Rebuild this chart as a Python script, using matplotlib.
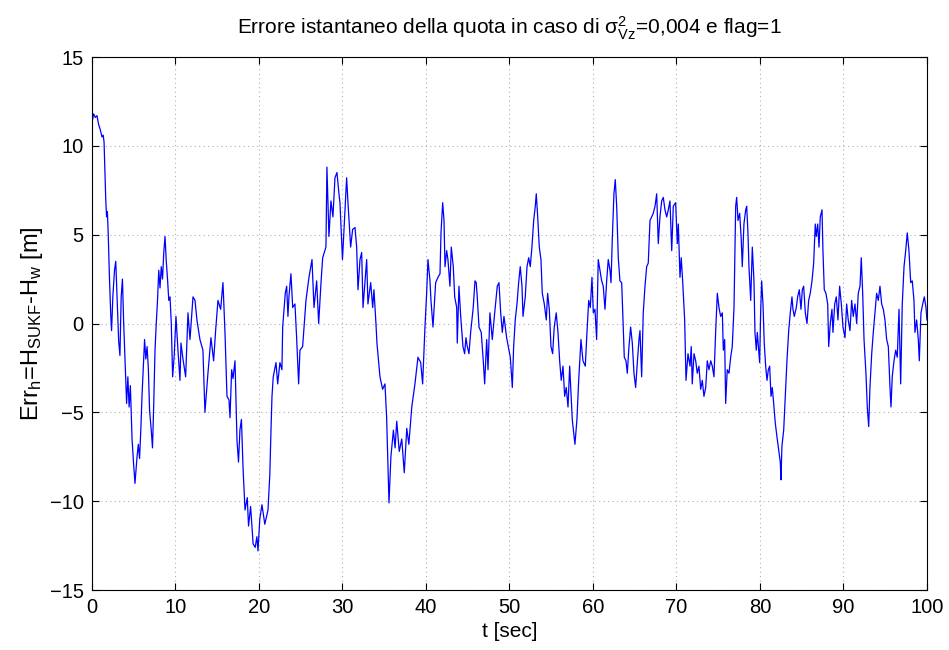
import matplotlib
matplotlib.use("Agg")
import matplotlib.pyplot as plt
import numpy as np

plt.rcParams['font.family'] = ['Liberation Sans', 'DejaVu Sans']
plt.rcParams['mathtext.fontset'] = 'custom'
plt.rcParams['mathtext.rm'] = 'Liberation Sans'
plt.rcParams['mathtext.it'] = 'Liberation Sans'
plt.rcParams['mathtext.default'] = 'regular'

# altitude error samples, split in 20 s blocks
t_a = [0.0, 0.2, 0.4, 0.6, 0.8, 1.0, 1.2, 1.35, 1.45, 1.55, 1.65, 1.75, 1.85, 1.95, 2.1,
       2.25, 2.35, 2.5, 2.7, 2.85, 3.0, 3.2, 3.35, 3.5, 3.65, 3.8, 4.0, 4.15, 4.3, 4.45,
       4.6, 4.8, 5.0, 5.15, 5.4, 5.55, 5.7, 5.85, 6.0, 6.15, 6.3, 6.45, 6.6, 6.75, 6.9,
       7.1, 7.25, 7.4, 7.55, 7.7, 7.85, 8.0, 8.15, 8.3, 8.45, 8.6, 8.75, 8.9, 9.05, 9.2,
       9.35, 9.5, 9.66, 9.85, 10.06, 10.3, 10.54, 10.66, 10.9, 11.22, 11.5, 11.74, 12.1, 12.34, 12.57,
       12.93, 13.29, 13.53, 13.89, 14.25, 14.57, 14.81, 15.09, 15.41, 15.69, 15.93, 16.17, 16.41, 16.53, 16.73,
       16.89, 17.13, 17.37, 17.55, 17.72, 17.9, 18.1, 18.33, 18.6, 18.75, 19.0, 19.3, 19.55, 19.75, 19.88]
err_a = [11.3, 11.8, 11.6, 11.7, 11.2, 10.9, 10.5, 10.6, 10.2, 8.5, 7.0, 6.0, 6.3, 5.0, 2.5,
         0.5, -0.4, 1.5, 3.0, 3.5, 1.5, -1.0, -1.8, 1.5, 2.5, 0.0, -2.5, -4.5, -3.0, -4.7,
         -3.5, -6.5, -8.0, -9.0, -7.5, -6.8, -7.6, -6.0, -4.0, -2.5, -0.9, -2.0, -1.3, -2.5, -4.9,
         -6.0, -7.0, -4.5, -1.5, 0.0, 1.3, 3.0, 2.0, 3.2, 2.5, 4.0, 4.9, 3.5, 2.5, 1.3,
         1.5, 0.0, -3.0, -1.8, 0.4, -1.5, -3.2, -1.1, -2.0, -3.0, 0.6, -0.9, 1.5, 1.3, 0.2,
         -0.9, -1.5, -5.0, -2.8, -0.8, -2.1, -0.4, 1.3, 0.8, 2.3, -0.5, -4.1, -4.3, -5.3, -2.6,
         -3.1, -2.1, -6.6, -7.8, -6.0, -5.4, -8.2, -10.5, -9.8, -11.4, -10.3, -12.4, -12.6, -12.0, -12.8]

t_b = [20.1, 20.36, 20.7, 21.08, 21.3, 21.44, 21.56, 21.71, 22.04, 22.24, 22.51, 22.75, 22.84, 23.15, 23.32,
       23.47, 23.59, 23.83, 24.04, 24.31, 24.51, 24.63, 24.75, 24.91, 25.23, 25.63, 25.99, 26.35, 26.59, 26.91,
       27.15, 27.43, 27.63, 28.02, 28.14, 28.38, 28.62, 28.86, 29.1, 29.34, 29.58, 29.7, 30.0, 30.3, 30.5,
       30.66, 30.98, 31.22, 31.5, 31.7, 31.86, 32.1, 32.3, 32.46, 32.69, 32.9, 33.05, 33.38, 33.62, 33.77,
       34.01, 34.13, 34.49, 34.81, 35.09, 35.29, 35.57, 35.8, 36.1, 36.3, 36.5, 36.8, 37.1, 37.4, 37.7,
       37.95, 38.3, 38.68, 39.04, 39.37, 39.6, 39.88]
err_b = [-11.0, -10.2, -11.3, -10.5, -8.5, -6.0, -4.1, -3.0, -2.2, -3.4, -2.2, -2.6, -0.2, 1.7, 2.1,
         0.4, 1.5, 2.8, 0.9, 1.1, -0.8, -2.1, -3.4, -1.5, -1.3, 1.3, 2.6, 3.6, 0.9, 2.4,
         0.0, 2.3, 3.7, 4.3, 8.8, 4.9, 6.9, 6.0, 8.2, 8.5, 7.3, 6.8, 3.6, 6.4, 8.2,
         6.8, 4.3, 5.3, 5.4, 4.3, 1.9, 3.6, 4.0, 0.9, 2.3, 3.6, 1.1, 2.3, 0.9, 1.9,
         0.0, -1.1, -3.0, -3.7, -3.4, -5.3, -10.1, -7.5, -6.0, -7.0, -5.5, -7.2, -6.5, -8.4, -5.9,
         -6.8, -4.7, -3.4, -1.9, -2.2, -3.4, -0.2]

t_c = [40.08, 40.24, 40.48, 40.6, 40.84, 41.16, 41.44, 41.68, 41.8, 42.0, 42.16, 42.28, 42.48, 42.63, 42.87,
       43.03, 43.27, 43.44, 43.68, 43.75, 43.95, 44.16, 44.43, 44.63, 44.79, 44.95, 45.15, 45.35, 45.66, 45.87,
       46.02, 46.14, 46.35, 46.62, 46.86, 47.03, 47.27, 47.43, 47.66, 47.94, 48.23, 48.54, 48.74, 48.95, 49.14,
       49.34, 49.66, 49.94, 50.1, 50.34, 50.5, 50.69, 50.9, 51.1, 51.29, 51.5, 51.62, 51.89, 52.1, 52.3,
       52.49, 52.69, 52.9, 53.09, 53.21, 53.38, 53.57, 53.77, 53.93, 54.17, 54.41, 54.57, 54.77, 54.97, 55.17,
       55.36, 55.6, 55.81, 56.01, 56.2, 56.41, 56.61, 56.8, 57.01, 57.21, 57.37, 57.52, 57.84, 58.08, 58.29,
       58.56, 58.8, 59.08, 59.28, 59.49, 59.68, 59.88]
err_c = [1.7, 3.6, 2.4, 1.3, -0.2, 2.3, 2.6, 2.8, 5.1, 6.8, 5.8, 3.2, 4.1, 3.6, 2.1,
         4.3, 3.2, 1.5, 0.9, -1.1, 2.1, 0.4, -1.3, -1.7, -0.8, -1.3, -1.7, -0.5, 0.9, 2.4,
         2.3, 1.5, -0.2, -0.5, -2.1, -3.4, -0.9, -2.6, 0.6, -0.9, 0.6, 2.1, 2.3, 0.6, -0.5,
         0.4, -0.8, -1.5, -1.9, -3.6, -1.3, 0.2, 1.1, 2.3, 3.2, 2.1, 0.4, 1.5, 3.2, 3.7,
         3.2, 4.3, 5.8, 6.6, 7.3, 6.0, 4.3, 3.6, 1.7, 1.1, 0.2, 1.7, 0.8, -1.3, -1.7,
         -0.2, 0.6, -0.5, -2.1, -3.2, -2.4, -4.1, -3.6, -4.7, -2.4, -3.9, -5.4, -6.8, -5.4, -3.2,
         -0.9, -2.1, -2.4, -0.5, 1.3, 0.9, 2.6]

t_d = [60.04, 60.24, 60.44, 60.63, 60.84, 61.04, 61.23, 61.44, 61.64, 61.83, 62.04, 62.16, 62.31, 62.51, 62.67,
       62.84, 63.03, 63.23, 63.44, 63.63, 63.75, 63.95, 64.11, 64.31, 64.51, 64.71, 64.91, 65.11, 65.31, 65.51,
       65.63, 65.83, 66.02, 66.23, 66.43, 66.62, 66.83, 67.03, 67.22, 67.43, 67.63, 67.82, 68.02, 68.23, 68.42,
       68.62, 68.83, 69.02, 69.22, 69.43, 69.62, 69.9, 70.1, 70.22, 70.42, 70.57, 70.74, 70.98, 71.14, 71.38,
       71.62, 71.77, 71.89, 72.1, 72.3, 72.49, 72.69, 72.9, 73.09, 73.29, 73.5, 73.69, 73.89, 74.1, 74.29,
       74.49, 74.69, 74.89, 75.09, 75.29, 75.49, 75.61, 75.77, 75.89, 76.08, 76.29, 76.49, 76.68, 76.89, 77.09,
       77.21, 77.37, 77.57, 77.76, 77.88, 78.08, 78.29, 78.41, 78.56, 78.68, 78.89, 79.08, 79.28, 79.4, 79.56,
       79.68, 79.84, 79.96]
err_d = [0.6, 0.8, -0.9, 3.6, 3.0, 2.4, 2.1, 0.8, 2.4, 3.6, 3.0, 2.3, 4.7, 7.3, 8.1,
         6.6, 3.7, 2.4, 2.3, -0.2, -1.9, -2.1, -2.8, -1.3, -0.2, -1.1, -2.8, -3.6, -2.2, -0.9,
         -0.4, -3.0, 0.6, 2.1, 3.2, 3.4, 5.8, 6.0, 6.2, 6.6, 7.3, 4.5, 6.0, 6.9, 7.1,
         6.4, 6.0, 6.4, 6.9, 4.1, 6.6, 6.8, 4.5, 5.6, 2.6, 3.7, 2.4, 0.2, -3.2, -1.7,
         -2.4, -1.3, -3.4, -1.7, -2.1, -2.8, -2.4, -3.7, -3.2, -4.1, -3.6, -2.1, -2.6, -2.1, -2.4,
         -3.0, -0.5, 1.7, 0.9, 0.4, 0.6, -1.5, -0.9, -4.5, -2.6, -2.8, -1.9, -1.3, 0.9, 6.6,
         7.1, 5.8, 6.2, 4.7, 3.2, 5.6, 6.4, 6.6, 5.1, 3.2, 1.3, 4.3, 2.4, -0.5, -1.5,
         -0.5, -1.5, -2.2]

t_e = [80.08, 80.2, 80.36, 80.51, 80.68, 80.84, 81.0, 81.16, 81.32, 81.47, 81.64, 81.83, 82.04, 82.24, 82.43,
       82.51, 82.63, 82.84, 83.03, 83.23, 83.44, 83.63, 83.83, 83.95, 84.11, 84.35, 84.51, 84.71, 84.91, 85.07,
       85.23, 85.43, 85.63, 85.83, 86.02, 86.23, 86.43, 86.62, 86.74, 86.91, 87.07, 87.22, 87.43, 87.54, 87.7,
       87.9, 88.11, 88.23, 88.42, 88.62, 88.74, 88.95, 89.14, 89.34, 89.54, 89.74, 89.94, 90.18, 90.38, 90.57,
       90.78, 90.98, 91.17, 91.38, 91.58, 91.77, 91.98, 92.13, 92.3, 92.46, 92.69, 92.85, 93.02, 93.17, 93.38,
       93.57, 93.77, 93.97, 94.17, 94.37, 94.57, 94.77, 94.97, 95.17, 95.37, 95.57, 95.69, 95.84, 96.05, 96.25,
       96.44, 96.65, 96.85, 97.04, 97.25, 97.45, 97.64, 97.84, 98.05, 98.24, 98.44, 98.56, 98.76, 98.96, 99.08,
       99.28, 99.49, 99.68, 99.88, 100.0]
err_e = [0.6, 2.4, 1.1, -1.1, -2.4, -3.2, -2.6, -2.4, -4.1, -3.6, -4.5, -5.6, -6.4, -7.1, -7.8,
         -8.8, -6.9, -6.0, -4.1, -2.1, -0.4, 0.6, 1.5, 0.8, 0.4, 0.9, 1.5, 1.9, 0.8, 1.9,
         2.1, 0.6, 0.0, 1.3, 1.7, 2.4, 3.4, 5.6, 4.9, 5.6, 4.3, 6.0, 6.4, 4.1, 1.9,
         1.7, 1.1, -1.3, 0.0, 0.8, -0.5, 1.1, 1.5, 0.2, 2.1, 1.1, -0.2, -0.8, 1.1, 0.2,
         -0.4, 1.3, 0.4, 1.1, 0.0, 1.7, 2.1, 3.7, 1.7, -0.9, -2.8, -4.7, -5.8, -3.6, -1.7,
         -0.5, 0.6, 1.7, 1.3, 2.1, 1.1, 0.8, 0.2, -0.9, -1.3, -3.6, -4.7, -3.0, -2.1, -1.5,
         -1.9, 0.8, -3.4, 1.1, 3.2, 4.1, 5.1, 4.1, 2.3, 2.4, 1.3, -0.5, 0.2, -0.9, -2.1,
         0.6, 1.1, 1.5, 0.9, 0.2]

t = np.concatenate([t_a, t_b, t_c, t_d, t_e])
err_h = np.concatenate([err_a, err_b, err_c, err_d, err_e])

x_ticks = np.arange(0, 101, 10)
y_ticks = np.arange(-15, 16, 5)

fig = plt.figure(figsize=(9.49, 6.5), dpi=100)
ax = fig.add_axes([0.0969, 0.0923, 0.8799, 0.82])

ax.plot(t, err_h, color='#0000ff', linewidth=0.9)

ax.set_xlim(0, 100)
ax.set_ylim(-15, 15)
ax.set_xticks(x_ticks)
ax.set_yticks(y_ticks)
ax.tick_params(direction='in', top=True, right=True, labelsize=14.5, length=5, width=0.8, pad=6)
ax.grid(True, color='#b0b0b0', linestyle=(0, (1, 3)), linewidth=0.8)
for sp in ax.spines.values():
    sp.set_linewidth(0.8)

ax.set_title(r'Errore istantaneo della quota in caso di $\sigma^2_{Vz}$=0,004 e flag=1',
             fontsize=15, pad=16)
ax.set_xlabel('t [sec]', fontsize=15, labelpad=3)
ax.set_ylabel(r'Err$_h$=H$_{SUKF}$-H$_w$ [m]', fontsize=17, labelpad=3)

fig.savefig('out.png', dpi=100)
